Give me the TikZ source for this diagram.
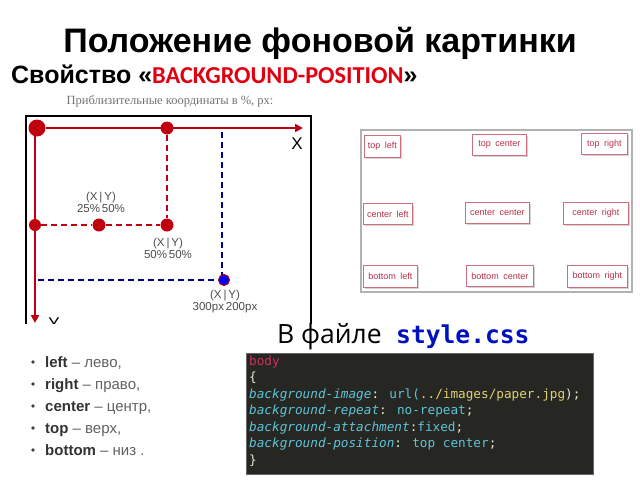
\documentclass[tikz,border=0pt]{standalone}
\usepackage{fontspec}
\setmainfont{Liberation Sans}
\newfontfamily\calfont{Carlito}
\newfontfamily\serfont{Liberation Serif}
\newfontfamily\codefont{DejaVu Sans Mono}
\newfontfamily\opfont{Open Sans}
\usetikzlibrary{arrows.meta,shadows}
\definecolor{axred}{HTML}{C00010}
\definecolor{navyc}{HTML}{00008A}
\definecolor{boxred}{HTML}{B83048}
\definecolor{codebg}{HTML}{262622}
\definecolor{kw}{HTML}{5EC4D8}
\definecolor{sel}{HTML}{D03060}
\definecolor{strc}{HTML}{E0D070}
\definecolor{plainc}{HTML}{E8E8D0}
\definecolor{cssblue}{HTML}{0010C0}
\definecolor{subred}{HTML}{E00010}
\tikzset{
  reddot/.style={circle,fill=axred,inner sep=0pt,minimum size=13pt},
  axis/.style={draw=axred,line width=2pt},
  rdash/.style={draw=axred,line width=2.4pt,dash pattern=on 6pt off 4pt},
  bdash/.style={draw=navyc,line width=2.4pt,dash pattern=on 6pt off 4pt},
  coordlbl/.style={align=center,font=\fontsize{11.5}{12}\selectfont,text=black!70,inner sep=0pt},
  posbox/.style={draw=boxred!70,fill=white,line width=0.6pt,text=boxred,font=\fontsize{9}{9}\selectfont,anchor=north west,inner sep=0pt,
     drop shadow={shadow xshift=1.5pt,shadow yshift=-1.5pt,opacity=0.35}},
  bul/.style={anchor=base west,font=\fontsize{15}{15}\selectfont,text=black!62,inner sep=0pt},
  code/.style={anchor=base west,inner sep=0pt,font=\codefont\fontsize{12.7}{12.7}\selectfont},
}
\begin{document}
\begin{tikzpicture}[x=1pt,y=-1pt]
\useasboundingbox (0,0) rectangle (640,480);
% titles
\node[anchor=base,inner sep=0pt,font=\bfseries\fontsize{34}{34}\selectfont] (title) at (320,52) {Положение фоновой картинки};
\node[anchor=base west,inner sep=0pt,font=\bfseries\fontsize{25}{25}\selectfont] (sub) at (11,83)
  {Свойство «{\calfont\fontsize{24.3}{24.3}\selectfont\color{subred}BACKGROUND-POSITION}»};
\node[font=\serfont\fontsize{12.5}{12.5}\selectfont,text=black!55] (cap) at (170,101) {Приблизительные координаты в \%, px:};
% left diagram
\begin{scope}
\clip (20,108) rectangle (320,323);
\draw[line width=2pt] (26,330) -- (26,116) -- (311,116) -- (311,330);
\node[reddot,minimum size=17pt] (o) at (37,128) {};
\coordinate (xend) at (303,128);
\coordinate (yend) at (35,323);
\coordinate (ystart) at (35,128);
\node[reddot] (t50) at (167,128) {};
\node[reddot] (c50) at (167,225) {};
\node[reddot,minimum size=12pt] (l50) at (35,225) {};
\node[reddot] (c25) at (99,225) {};
\draw[axis,-{Triangle[length=8pt,width=8pt]}] (o) -- (xend);
\draw[axis,-{Triangle[length=8pt,width=8pt]}] (ystart) -- (yend);
\draw[rdash] (t50) -- (c50);
\draw[rdash] (l50) -- (c25);
\draw[rdash] (c25) -- (c50);
\coordinate (btop) at (222,132);
\coordinate (bleft) at (38,280);
\node[circle,fill=blue,draw=axred,line width=1pt,inner sep=0pt,minimum size=11pt] (bp) at (224,280) {};
\draw[bdash] (btop) -- (222,275);
\draw[bdash] (bleft) -- (bp);
\node[font=\fontsize{17}{17}\selectfont] (xl) at (297,144) {X};
\node[font=\fontsize{17}{17}\selectfont] (yl) at (54,324) {Y};
\node[coordlbl] (l1) at (101,202) {(X\,|\,Y)\\25\%\,50\%};
\node[coordlbl] (l2) at (168,248) {(X\,|\,Y)\\50\%\,50\%};
\node[coordlbl] (l3) at (225,302) {(X\,|\,Y)\\300px\,200px};
\end{scope}
% right picture
\draw[draw=black!30,line width=2pt] (361,130) rectangle (632,292);
\node[posbox,minimum width=36pt,minimum height=22pt] (tl) at (364,135) {top\enspace left};
\node[posbox,minimum width=54pt,minimum height=21pt] (tc) at (472,134) {top\enspace center};
\node[posbox,minimum width=46pt,minimum height=21pt] (tr) at (581,133) {top\enspace right};
\node[posbox,minimum width=49pt,minimum height=21pt] (cl) at (363,203) {center\enspace left};
\node[posbox,minimum width=64pt,minimum height=21pt] (cc) at (465,202) {center\enspace center};
\node[posbox,minimum width=65pt,minimum height=22pt] (cr) at (563,202) {center\enspace right};
\node[posbox,minimum width=54pt,minimum height=22pt] (bl) at (363,265) {bottom\enspace left};
\node[posbox,minimum width=67pt,minimum height=21pt] (bc) at (466,265) {bottom\enspace center};
\node[posbox,minimum width=60pt,minimum height=22pt] (br) at (567,265) {bottom\enspace right};
% bullets
\foreach \yy in {367,389,411,433,455}{
  \fill[black!75] (33,\yy-5) circle (1.8pt);
}
\node[bul] (b1) at (45,367) {{\bfseries\color{black!80}left} – лево,};
\node[bul] (b2) at (45,389) {{\bfseries\color{black!80}right} – право,};
\node[bul] (b3) at (45,411) {{\bfseries\color{black!80}center} – центр,};
\node[bul] (b4) at (45,433) {{\bfseries\color{black!80}top} – верх,};
\node[bul] (b5) at (45,455) {{\bfseries\color{black!80}bottom} – низ .};
% file label
\node[anchor=base west,inner sep=0pt,font=\opfont\fontsize{26.5}{26.5}\selectfont] (file) at (277,343) {В файле};
\node[anchor=base west,inner sep=0pt,font=\codefont\bfseries\fontsize{24.6}{24.6}\selectfont,text=cssblue] (fname) at (396,343) {style.css};
% code box
\node[draw=black!60,fill=codebg,line width=1pt,anchor=north west,minimum width=347pt,minimum height=121pt,inner sep=0pt] (codebox) at (246,353) {};
\node[code,text=sel] (c1) at (249,365) {body};
\node[code,text=plainc] (c2) at (249,381.5) {\{};
\node[code] (c3) at (249,398) {{\itshape\color{kw}background-image}\color{plainc}: \color{kw}url(\color{strc}../images/paper.jpg\color{plainc});};
\node[code] (c4) at (249,414.5) {{\itshape\color{kw}background-repeat}\color{plainc}: \color{kw}no-repeat\color{plainc};};
\node[code] (c5) at (249,431) {{\itshape\color{kw}background-attachment}\color{plainc}:\color{kw}fixed\color{plainc};};
\node[code] (c6) at (249,447.5) {{\itshape\color{kw}background-position}\color{plainc}: \color{kw}top center\color{plainc};};
\node[code,text=plainc] (c7) at (249,464) {\}};
\end{tikzpicture}
\end{document}
